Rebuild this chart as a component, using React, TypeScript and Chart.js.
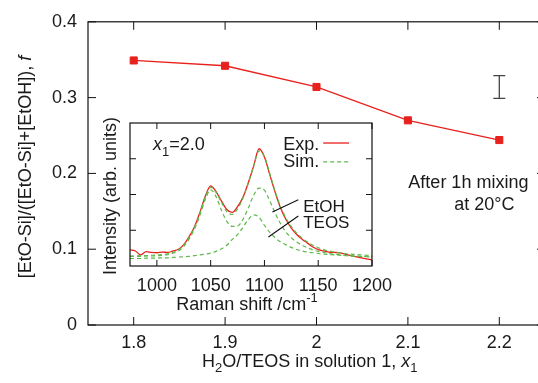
import React, { useEffect, useRef } from 'react';
import { Chart, registerables } from 'chart.js';

Chart.register(...registerables);

const FONT = '"Liberation Sans", Arial, Helvetica, sans-serif';
const TEXT = '#1a1a1a';
const RED = '#e8211d';
const GREEN = '#5fb84c';

// ---- main chart data ----
const ratioX = [1.8, 1.9, 2.0, 2.1, 2.2];
const fraction = [0.349, 0.342, 0.314, 0.27, 0.244];
const xTickValues = [1.8, 1.9, 2.0, 2.1, 2.2];
const xTickLabels = ['1.8', '1.9', '2', '2.1', '2.2'];
const yTickValues = [0, 0.1, 0.2, 0.3, 0.4];
const yTickLabels = ['0', '0.1', '0.2', '0.3', '0.4'];
const errorBarX = 2.2;
const errorBarLow = 0.299;
const errorBarHigh = 0.329;
const noteLine1 = 'After 1h mixing';
const noteLine2 = 'at 20°C';
const note1Pos = { x: 2.1005, y: 0.181 };
const note2Pos = { x: 2.1836, y: 0.152 };

// ---- inset (Raman spectra) data ----
const ramanShift = [
  975, 980, 985, 990, 995, 1000, 1005, 1010, 1015, 1020, 1025, 1030, 1035, 1040, 1045, 1050,
  1055, 1060, 1065, 1070, 1075, 1080, 1085, 1090, 1095, 1100, 1105, 1110, 1115, 1120, 1125,
  1130, 1135, 1140, 1145, 1150, 1155, 1160, 1165, 1170, 1175, 1180, 1185, 1190, 1195, 1200,
];
const expIntensity = [
  0.45, 0.42, 0.31, 0.4, 0.38, 0.37, 0.39, 0.38, 0.42, 0.47, 0.6, 0.82, 1.1, 1.5, 1.95, 2.24,
  2.08, 1.82, 1.58, 1.5, 1.66, 1.92, 2.33, 2.8, 3.28, 3.05, 2.55, 2.06, 1.62, 1.3, 1.06,
  0.88, 0.75, 0.64, 0.53, 0.46, 0.42, 0.39, 0.38, 0.37, 0.33, 0.29, 0.26, 0.23, 0.2, 0.17,
];
const simIntensity = [
  0.28, 0.28, 0.29, 0.29, 0.3, 0.31, 0.32, 0.34, 0.38, 0.45, 0.58, 0.8, 1.08, 1.47, 1.92, 2.2,
  2.06, 1.78, 1.52, 1.44, 1.6, 1.9, 2.32, 2.8, 3.22, 3.06, 2.58, 2.08, 1.66, 1.34, 1.1,
  0.92, 0.78, 0.67, 0.58, 0.51, 0.46, 0.42, 0.39, 0.37, 0.35, 0.33, 0.32, 0.31, 0.3, 0.29,
];
const etohIntensity = [
  0.27, 0.27, 0.27, 0.28, 0.28, 0.29, 0.3, 0.32, 0.36, 0.42, 0.55, 0.76, 1.04, 1.42, 1.86, 2.13,
  1.94, 1.56, 1.25, 1.11, 1.12, 1.3, 1.62, 1.98, 2.18, 2.12, 1.82, 1.48, 1.18, 0.95, 0.79,
  0.67, 0.58, 0.51, 0.45, 0.41, 0.38, 0.35, 0.33, 0.31, 0.3, 0.29, 0.28, 0.27, 0.27, 0.26,
];
const teosIntensity = [
  0.21, 0.21, 0.21, 0.22, 0.22, 0.22, 0.23, 0.23, 0.24, 0.25, 0.26, 0.27, 0.29, 0.31, 0.33, 0.36,
  0.41, 0.48, 0.58, 0.74, 0.88, 1.08, 1.3, 1.43, 1.36, 1.14, 0.94, 0.79, 0.67, 0.59, 0.52,
  0.46, 0.42, 0.39, 0.37, 0.35, 0.33, 0.32, 0.31, 0.3, 0.29, 0.28, 0.27, 0.26, 0.26, 0.25,
];
const insetXTickValues = [1000, 1050, 1100, 1150, 1200];
const insetXTickLabels = ['1000', '1050', '1100', '1150', '1200'];
const insetYTickValues = [1, 2, 3];
const legendExpLabel = 'Exp.';
const legendSimLabel = 'Sim.';
const legendTextRightX = 1151;
const legendSampleX = [1154.6, 1178.7];
const legendExpY = { text: 3.24, line: 3.44 };
const legendSimY = { text: 2.77, line: 2.91 };
const etohLabelPos = { x: 1136, y: 1.51 };
const teosLabelPos = { x: 1136, y: 1.06 };
const etohLeader = [{ x: 1107.4, y: 1.51 }, { x: 1131.5, y: 1.85 }];
const teosLeader = [{ x: 1103.7, y: 0.81 }, { x: 1131.5, y: 1.4 }];
const x1LabelPos = { x: 996.3, y: 3.24 };

type Run = { t: string; it?: boolean; sub?: boolean; sup?: boolean };

function runFont(r: Run, size: number) {
  const s = r.sub || r.sup ? Math.round(size * 0.7) : size;
  return `${r.it ? 'italic ' : ''}${s}px ${FONT}`;
}

function drawRuns(
  ctx: CanvasRenderingContext2D,
  runs: Run[],
  x: number,
  y: number,
  size: number,
  align: 'left' | 'center' | 'right',
) {
  ctx.save();
  ctx.textBaseline = 'alphabetic';
  ctx.textAlign = 'left';
  ctx.fillStyle = TEXT;
  let w = 0;
  for (const r of runs) {
    ctx.font = runFont(r, size);
    w += ctx.measureText(r.t).width;
  }
  let cx = align === 'left' ? x : align === 'center' ? x - w / 2 : x - w;
  for (const r of runs) {
    ctx.font = runFont(r, size);
    const dy = r.sub ? size * 0.3 : r.sup ? -size * 0.42 : 0;
    ctx.fillText(r.t, cx, y + dy);
    cx += ctx.measureText(r.t).width;
  }
  ctx.restore();
}

const mainDecor = {
  id: 'mainDecor',
  afterDraw(chart: any) {
    const { ctx, chartArea: a, scales } = chart;
    const xs = scales.x;
    const ys = scales.y;
    ctx.save();
    ctx.strokeStyle = '#111';
    ctx.lineWidth = 1.2;
    ctx.strokeRect(a.left, a.top, a.right - a.left, a.bottom - a.top);
    ctx.lineWidth = 1;
    const TL = 8;
    ctx.beginPath();
    for (const v of xTickValues) {
      const p = xs.getPixelForValue(v);
      ctx.moveTo(p, a.bottom);
      ctx.lineTo(p, a.bottom - TL);
      ctx.moveTo(p, a.top);
      ctx.lineTo(p, a.top + TL);
    }
    for (const v of yTickValues) {
      const p = ys.getPixelForValue(v);
      ctx.moveTo(a.left, p);
      ctx.lineTo(a.left + TL, p);
      ctx.moveTo(a.right, p);
      ctx.lineTo(a.right - TL, p);
    }
    ctx.stroke();

    // error bar
    const ex = xs.getPixelForValue(errorBarX);
    const e1 = ys.getPixelForValue(errorBarLow);
    const e2 = ys.getPixelForValue(errorBarHigh);
    ctx.strokeStyle = '#444';
    ctx.lineWidth = 1.3;
    ctx.beginPath();
    ctx.moveTo(ex, e1);
    ctx.lineTo(ex, e2);
    ctx.moveTo(ex - 6, e1);
    ctx.lineTo(ex + 6, e1);
    ctx.moveTo(ex - 6, e2);
    ctx.lineTo(ex + 6, e2);
    ctx.stroke();
    ctx.restore();

    // annotation
    drawRuns(ctx, [{ t: noteLine1 }], xs.getPixelForValue(note1Pos.x), ys.getPixelForValue(note1Pos.y), 18, 'left');
    drawRuns(ctx, [{ t: noteLine2 }], xs.getPixelForValue(note2Pos.x), ys.getPixelForValue(note2Pos.y), 18, 'center');

    // axis titles
    drawRuns(
      ctx,
      [{ t: 'H' }, { t: '2', sub: true }, { t: 'O/TEOS in solution 1, ' }, { t: 'x', it: true }, { t: '1', sub: true }],
      202,
      367,
      18,
      'left',
    );
    ctx.save();
    ctx.translate(30.5, 167);
    ctx.rotate(-Math.PI / 2);
    drawRuns(ctx, [{ t: '[EtO-Si]/([EtO-Si]+[EtOH]), ' }, { t: 'f', it: true }], 0, 0, 18, 'center');
    ctx.restore();
  },
};

const insetDecor = {
  id: 'insetDecor',
  afterDraw(chart: any) {
    const { ctx, chartArea: a, scales } = chart;
    const xs = scales.x;
    const ys = scales.y;
    const px = (v: number) => xs.getPixelForValue(v);
    const py = (v: number) => ys.getPixelForValue(v);
    ctx.save();
    ctx.strokeStyle = '#111';
    ctx.lineWidth = 1.2;
    ctx.strokeRect(a.left, a.top, a.right - a.left, a.bottom - a.top);
    ctx.lineWidth = 1;
    const TL = 6;
    ctx.beginPath();
    for (const v of insetXTickValues) {
      const p = px(v);
      ctx.moveTo(p, a.bottom);
      ctx.lineTo(p, a.bottom - TL);
      ctx.moveTo(p, a.top);
      ctx.lineTo(p, a.top + TL);
    }
    for (const v of insetYTickValues) {
      const p = py(v);
      ctx.moveTo(a.left, p);
      ctx.lineTo(a.left + TL, p);
      ctx.moveTo(a.right, p);
      ctx.lineTo(a.right - TL, p);
    }
    ctx.stroke();

    // leader lines
    ctx.strokeStyle = '#111';
    ctx.lineWidth = 1.1;
    ctx.beginPath();
    ctx.moveTo(px(etohLeader[0].x), py(etohLeader[0].y));
    ctx.lineTo(px(etohLeader[1].x), py(etohLeader[1].y));
    ctx.moveTo(px(teosLeader[0].x), py(teosLeader[0].y));
    ctx.lineTo(px(teosLeader[1].x), py(teosLeader[1].y));
    ctx.stroke();

    // legend samples
    ctx.lineWidth = 1.3;
    ctx.strokeStyle = RED;
    ctx.beginPath();
    ctx.moveTo(px(legendSampleX[0]), py(legendExpY.line));
    ctx.lineTo(px(legendSampleX[1]), py(legendExpY.line));
    ctx.stroke();
    ctx.strokeStyle = GREEN;
    ctx.setLineDash([4, 3]);
    ctx.beginPath();
    ctx.moveTo(px(legendSampleX[0]), py(legendSimY.line));
    ctx.lineTo(px(legendSampleX[1]), py(legendSimY.line));
    ctx.stroke();
    ctx.restore();

    drawRuns(ctx, [{ t: legendExpLabel }], px(legendTextRightX), py(legendExpY.text), 18, 'right');
    drawRuns(ctx, [{ t: legendSimLabel }], px(legendTextRightX), py(legendSimY.text), 18, 'right');
    drawRuns(ctx, [{ t: 'EtOH' }], px(etohLabelPos.x), py(etohLabelPos.y), 17, 'left');
    drawRuns(ctx, [{ t: 'TEOS' }], px(teosLabelPos.x), py(teosLabelPos.y), 17, 'left');
    drawRuns(ctx, [{ t: 'x', it: true }, { t: '1', sub: true }, { t: '=2.0' }], px(x1LabelPos.x), py(x1LabelPos.y), 18, 'left');

    // axis titles
    const cxm = (a.left + a.right) / 2;
    drawRuns(ctx, [{ t: 'Raman shift /cm' }, { t: '-1', sup: true }], cxm - 4, a.bottom + 44, 18, 'center');
    ctx.save();
    ctx.translate(a.left - 14, (a.top + a.bottom) / 2 + 1.5);
    ctx.rotate(-Math.PI / 2);
    drawRuns(ctx, [{ t: 'Intensity (arb. units)' }], 0, 0, 18, 'center');
    ctx.restore();
  },
};

export default function App() {
  const mainRef = useRef<HTMLCanvasElement>(null);
  const insetRef = useRef<HTMLCanvasElement>(null);

  useEffect(() => {
    const tickFont = { family: FONT, size: 18 };
    const main = new Chart(mainRef.current as HTMLCanvasElement, {
      type: 'line',
      data: {
        datasets: [
          {
            data: ratioX.map((x, i) => ({ x, y: fraction[i] })),
            borderColor: RED,
            backgroundColor: RED,
            borderWidth: 1.3,
            pointStyle: 'rect',
            pointRadius: 5,
            pointBorderWidth: 1,
            tension: 0,
            clip: false as any,
          },
        ],
      },
      options: {
        animation: false,
        responsive: false,
        devicePixelRatio: 1,
        events: [],
        layout: { padding: { top: 17, right: 15, left: 0, bottom: 0 } },
        plugins: { legend: { display: false }, tooltip: { enabled: false } },
        scales: {
          x: {
            type: 'linear',
            min: 1.75,
            max: 2.25,
            afterBuildTicks: (s: any) => {
              s.ticks = xTickValues.map((v) => ({ value: v }));
            },
            afterFit: (s: any) => {
              s.height = 58;
            },
            ticks: {
              callback: (_v: any, i: number) => xTickLabels[i],
              font: tickFont,
              color: TEXT,
              padding: 7,
              maxRotation: 0,
              autoSkip: false,
            },
            grid: { display: false, drawTicks: false },
            border: { display: false },
          },
          y: {
            type: 'linear',
            min: 0,
            max: 0.4,
            afterBuildTicks: (s: any) => {
              s.ticks = yTickValues.map((v) => ({ value: v }));
            },
            afterFit: (s: any) => {
              s.width = 88;
            },
            ticks: {
              callback: (_v: any, i: number) => yTickLabels[i],
              font: tickFont,
              color: TEXT,
              padding: 11,
              autoSkip: false,
            },
            grid: { display: false, drawTicks: false },
            border: { display: false },
          },
        },
      },
      plugins: [mainDecor],
    } as any);

    const dashed = {
      borderColor: GREEN,
      borderWidth: 1.2,
      borderDash: [4, 3],
      pointRadius: 0,
      cubicInterpolationMode: 'monotone',
      fill: false,
    };
    const inset = new Chart(insetRef.current as HTMLCanvasElement, {
      type: 'line',
      data: {
        datasets: [
          { ...dashed, data: ramanShift.map((x, i) => ({ x, y: simIntensity[i] })), order: 1 },
          { ...dashed, data: ramanShift.map((x, i) => ({ x, y: etohIntensity[i] })), order: 1 },
          { ...dashed, data: ramanShift.map((x, i) => ({ x, y: teosIntensity[i] })), order: 1 },
          {
            data: ramanShift.map((x, i) => ({ x, y: expIntensity[i] })),
            borderColor: RED,
            borderWidth: 1.3,
            pointRadius: 0,
            cubicInterpolationMode: 'monotone',
            fill: false,
            order: 2,
          },
        ],
      },
      options: {
        animation: false,
        responsive: false,
        devicePixelRatio: 1,
        events: [],
        layout: { padding: { top: 13, right: 30, left: 40, bottom: 0 } },
        plugins: { legend: { display: false }, tooltip: { enabled: false } },
        scales: {
          x: {
            type: 'linear',
            min: 975,
            max: 1200,
            afterBuildTicks: (s: any) => {
              s.ticks = insetXTickValues.map((v) => ({ value: v }));
            },
            afterFit: (s: any) => {
              s.height = 54;
            },
            ticks: {
              callback: (_v: any, i: number) => insetXTickLabels[i],
              font: tickFont,
              color: TEXT,
              padding: 9,
              maxRotation: 0,
              autoSkip: false,
            },
            grid: { display: false, drawTicks: false },
            border: { display: false },
          },
          y: { type: 'linear', min: 0, max: 4, display: false },
        },
      },
      plugins: [insetDecor],
    } as any);

    return () => {
      main.destroy();
      inset.destroy();
    };
  }, []);

  return (
    <div
      style={{
        position: 'absolute',
        left: 0,
        top: 0,
        width: 538,
        height: 383,
        overflow: 'hidden',
        background: '#fff',
      }}
    >
      <canvas
        ref={mainRef}
        width={560}
        height={383}
        style={{ position: 'absolute', left: 0, top: 0, width: 560, height: 383 }}
      />
      <canvas
        ref={insetRef}
        width={312}
        height={210}
        style={{ position: 'absolute', left: 90, top: 110, width: 312, height: 210 }}
      />
    </div>
  );
}
